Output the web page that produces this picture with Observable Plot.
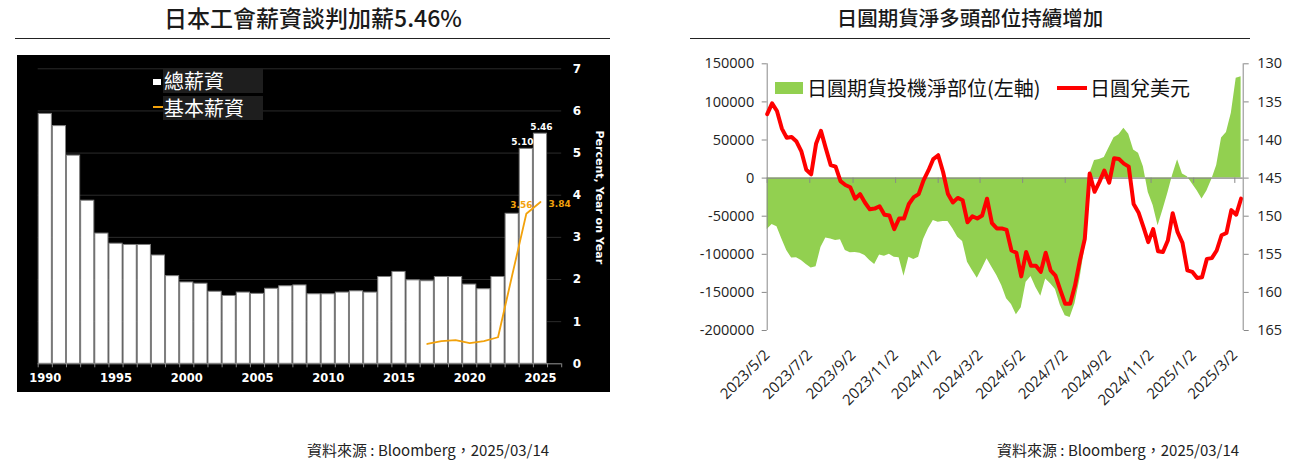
<!DOCTYPE html>
<html><head><meta charset="utf-8">
<script src="https://cdn.jsdelivr.net/npm/d3@7"></script>
<script src="https://cdn.jsdelivr.net/npm/@observablehq/plot@0.6"></script>
<style>
body{margin:0;background:#fff;width:1301px;height:463px;position:relative;overflow:hidden;font-family:"Noto Sans CJK TC",sans-serif;}
.title{position:absolute;top:4px;color:#1a1a1a;font-weight:500;white-space:nowrap;transform:translateX(-50%);line-height:26px}
.rule{position:absolute;top:38px;height:1px;background:#222;}
.footer{position:absolute;top:440px;font-size:15px;color:#222;white-space:nowrap;line-height:20px}
.box{position:absolute;}
.lg{position:absolute;white-space:nowrap;font-size:20px;line-height:24px}
</style></head><body>
<div class="title" style="left:313px;font-size:23px">日本工會薪資談判加薪5.46%</div>
<div class="rule" style="left:15px;width:595px"></div>
<div class="title" style="left:970px;font-size:20.5px">日圓期貨淨多頭部位持續增加</div>
<div class="rule" style="left:690px;width:560px"></div>
<div id="left" class="box" style="left:17px;top:55px;width:593px;height:337px"></div>
<div id="rightA" class="box" style="left:640px;top:50px;width:661px;height:360px"></div>
<div id="rightB" class="box" style="left:640px;top:50px;width:661px;height:360px"></div>
<!-- left legend -->
<div class="box" style="left:163px;top:68px;width:100px;height:25px;background:#1e1e1e"></div>
<div class="box" style="left:153px;top:79px;width:8px;height:6px;background:#fff"></div>
<div class="lg" style="left:164px;top:68px;color:#fff;line-height:25px">總薪資</div>
<div class="box" style="left:163px;top:96px;width:100px;height:24px;background:#1e1e1e"></div>
<div class="box" style="left:153px;top:106px;width:10px;height:2px;background:#F2A20C"></div>
<div class="lg" style="left:164px;top:96px;color:#fff;line-height:24px">基本薪資</div>
<!-- right legend -->
<div class="box" style="left:775px;top:82px;width:28px;height:12px;background:#92D050"></div>
<div class="lg" style="left:807px;top:76px;color:#111">日圓期貨投機淨部位(左軸)</div>
<div class="box" style="left:1057px;top:86px;width:30px;height:4px;background:#FF0000"></div>
<div class="lg" style="left:1090px;top:76px;color:#111">日圓兌美元</div>
<div class="footer" style="left:307px">資料來源 : Bloomberg，2025/03/14</div>
<div class="footer" style="left:997px">資料來源 : Bloomberg，2025/03/14</div>
<script>
// ---- Left chart data ----
const wageYears = [1990,1991,1992,1993,1994,1995,1996,1997,1998,1999,2000,2001,2002,2003,2004,2005,2006,2007,2008,2009,2010,2011,2012,2013,2014,2015,2016,2017,2018,2019,2020,2021,2022,2023,2024,2025];
const totalWage = [5.93,5.64,4.94,3.87,3.09,2.85,2.82,2.82,2.57,2.08,1.93,1.90,1.71,1.61,1.69,1.66,1.78,1.84,1.86,1.65,1.65,1.69,1.72,1.69,2.06,2.18,1.98,1.96,2.06,2.06,1.88,1.77,2.06,3.56,5.10,5.46];
const baseYears = [2017,2018,2019,2020,2021,2022,2023,2024,2025];
const baseWage = [0.47,0.54,0.56,0.49,0.54,0.63,2.10,3.56,3.84];
const yearTickLabels = [1990,1995,2000,2005,2010,2015,2020,2025];
const pctTicks = [0,1,2,3,4,5,6,7];

// ---- Right chart data ----
const netPositions = [-67500,-61000,-64000,-80000,-95000,-105000,-104500,-108000,-113500,-118000,
 -116500,-91000,-78500,-80000,-82000,-81000,-95000,-98000,-97500,-98500,
 -101500,-108000,-113500,-101000,-102500,-100000,-103800,-104600,-128700,-103800,
 -106800,-103800,-80600,-66600,-55600,-57800,-56900,-56900,-66600,-77500,
 -83200,-110300,-121300,-131300,-119100,-106000,-116900,-127800,-141000,-158400,
 -166000,-179400,-170000,-136600,-129000,-143500,-154900,-132500,-138800,-146200,
 -167000,-180500,-183000,-165000,-133000,-92000,5000,23000,24400,27000,
 40000,53000,57000,65500,57500,37000,32500,15000,-19000,-36000,
 -62500,-42000,-20000,4000,24000,5500,1800,-7500,-16500,-27500,
 -17000,-2000,16500,52500,60000,85000,131000,133000];
const usdJpy = [136.6,135.2,136.2,138.5,139.7,139.6,140.2,141.5,143.9,144.5,
 140.5,138.8,141.1,143.3,143.5,145.4,145.9,146.2,147.7,147.1,
 148.2,149.1,149.0,148.7,149.8,149.9,151.7,150.3,150.3,148.4,
 147.5,147.1,145.3,144.0,142.5,142.0,144.2,147.1,148.2,147.6,
 147.9,150.8,150.0,150.3,149.9,147.7,150.9,151.6,151.6,151.8,
 154.5,154.8,157.9,154.7,156.5,156.5,157.3,154.8,157.1,157.8,
 159.7,161.5,161.5,159.1,155.8,153.0,144.4,146.8,145.5,144.0,
 145.6,142.4,142.5,143.1,143.5,148.4,149.5,151.4,153.4,151.7,
 154.6,154.7,153.2,149.6,152.1,153.5,157.1,157.3,158.1,158.0,
 155.6,155.5,154.5,152.5,152.2,149.2,149.8,147.7];
const weekFirst = "2023-05-02", weekStop = "2025-03-12";
const xStart = "2023-05-02", xEnd = "2025-03-14";
const dateTicks = ["2023-05-02","2023-07-02","2023-09-02","2023-11-02","2024-01-02","2024-03-02","2024-05-02","2024-07-02","2024-09-02","2024-11-02","2025-01-02","2025-03-02"];
const netTicks = [-200000,-150000,-100000,-50000,0,50000,100000,150000];
const yenTicks = [130,135,140,145,150,155,160,165];

// ---- Left chart ----
const wageRows = wageYears.map((y,i)=>({year:y,total:totalWage[i]}));
const baseRows = baseYears.map((y,i)=>({year:y,base:baseWage[i]}));
const boundaries = wageYears.map(y=>y-0.5).concat([wageYears[wageYears.length-1]+0.5, wageYears[wageYears.length-1]+1.5]);
const last = wageRows.slice(-2);
const baseLast = baseRows.slice(-2);
const left = Plot.plot({
  width:593, height:337,
  marginLeft:20.7, marginRight:48.8, marginTop:13.3, marginBottom:28.7,
  style:{background:"#000", color:"#fff", fontFamily:"'DejaVu Sans', sans-serif", fontWeight:"bold", overflow:"visible"},
  x:{domain:[1989.5,2026.5], label:null},
  y:{domain:[0,7], label:null},
  marks:[
    Plot.gridY(pctTicks,{stroke:"#2b2b2b", strokeOpacity:1}),
    Plot.rectY(wageRows,{x1:d=>d.year-0.5, x2:d=>d.year+0.5, y:"total", fill:"#fff", stroke:"#7f7f7f", strokeWidth:1, insetLeft:0.5, insetRight:0.5}),
    Plot.ruleY([0],{stroke:"#888"}),
    Plot.axisX(boundaries,{tickSize:4, tickFormat:()=>"", stroke:"#888", label:null}),
    Plot.axisX(yearTickLabels,{tickSize:0, tickPadding:10, fontSize:11.5, tickFormat:d=>String(d), label:null}),
    Plot.axisY(pctTicks,{anchor:"right", tickSize:0, tickPadding:11, fontSize:12, label:null}),
    Plot.line(baseRows,{x:"year", y:"base", stroke:"#F2A20C", strokeWidth:1.8}),
    Plot.text([last[0]],{x:"year", y:"total", text:d=>d.total.toFixed(2), dy:-7, dx:-4, fontSize:9, fill:"#fff"}),
    Plot.text([last[1]],{x:"year", y:"total", text:d=>d.total.toFixed(2), dy:-7, dx:1, fontSize:9, fill:"#fff"}),
    Plot.text([baseLast[0]],{x:"year", y:"base", text:d=>d.base.toFixed(2), dy:-9, dx:-5, fontSize:9, fill:"#F2A20C"}),
    Plot.text([baseLast[1]],{x:"year", y:"base", text:d=>d.base.toFixed(2), dy:2, dx:8, textAnchor:"start", fontSize:9, fill:"#F2A20C"}),
    Plot.text(["Percent, Year on Year"],{frameAnchor:"right", dx:38, dy:-19, rotate:90, textAnchor:"middle", fontSize:11, fill:"#fff"})
  ]
});
document.getElementById("left").appendChild(left);

// ---- Right chart ----
const dates = d3.utcTuesday.range(new Date(weekFirst), new Date(weekStop));
const rows = dates.map((d,i)=>({date:d, net:netPositions[i], yen:usdJpy[i]}));
const xDomain = [new Date(xStart), new Date(xEnd)];
const tickDates = dateTicks.map(s=>new Date(s));
const fmt = d3.utcFormat("%Y/%-m/%-d");
const common = {width:661, height:360, marginLeft:126.7, marginRight:58.3, marginTop:13.3, marginBottom:80};
const rightA = Plot.plot({
  ...common,
  style:{background:"transparent", color:"#222", fontFamily:"'Open Sans', sans-serif", overflow:"visible"},
  x:{type:"utc", domain:xDomain, label:null},
  y:{domain:[-200000,150000], label:null},
  marks:[
    Plot.areaY(rows,{x:"date", y:"net", fill:"#92D050"}),
    Plot.ruleY([0],{stroke:"#888", strokeWidth:1.3}),
    Plot.ruleX(tickDates,{x:d=>d, y1:0, y2:-7000, stroke:"#888"}),
    Plot.ruleX([xDomain[0]],{stroke:"#888"}),
    Plot.axisY(netTicks,{anchor:"left", tickSize:5, tickPadding:8, stroke:"#888", fontSize:14.5, tickFormat:d=>String(d), label:null}),
    Plot.axisX(tickDates,{anchor:"bottom", tickSize:0, tickPadding:22, tickRotate:-45, tickFormat:fmt, fontSize:15, label:null})
  ]
});
document.getElementById("rightA").appendChild(rightA);
const rightB = Plot.plot({
  ...common,
  style:{background:"transparent", color:"#222", fontFamily:"'Open Sans', sans-serif", overflow:"visible"},
  x:{type:"utc", domain:xDomain, axis:null, label:null},
  y:{domain:[165,130], label:null},
  marks:[
    Plot.line(rows,{x:"date", y:"yen", stroke:"#FF0000", strokeWidth:4, strokeLinejoin:"round"}),
    Plot.ruleX([xDomain[1]],{stroke:"#888"}),
    Plot.axisY(yenTicks,{anchor:"right", tickSize:5, tickPadding:9, stroke:"#888", fontSize:14.5, tickFormat:d=>String(d), label:null})
  ]
});
document.getElementById("rightB").appendChild(rightB);
</script>
</body></html>
